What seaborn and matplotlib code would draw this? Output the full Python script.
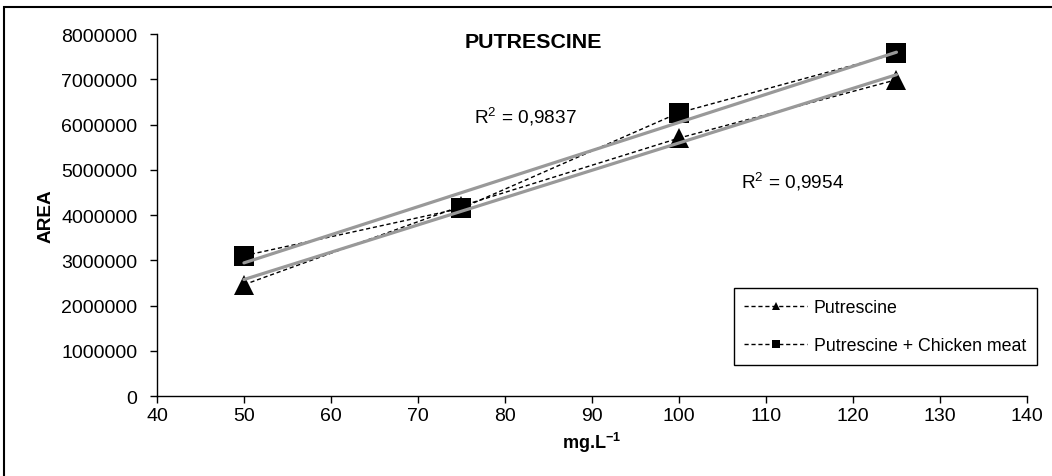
import numpy as np
import pandas as pd
import matplotlib
matplotlib.use("Agg")
import matplotlib.pyplot as plt
from matplotlib.patches import Rectangle
from matplotlib.ticker import FuncFormatter, MultipleLocator
import seaborn as sns

# Calibration data: concentration (mg.L-1) vs. peak area
concentration = [50, 75, 100, 125]
area_putrescine = [2460000, 4200000, 5700000, 6990000]
area_chicken = [3100000, 4150000, 6260000, 7570000]
series_names = ["Putrescine", "Putrescine + Chicken meat"]
r2_labels = ["R$^2$ = 0,9954", "R$^2$ = 0,9837"]

sns.set_theme(style="white")
plt.rcParams["font.family"] = ["Liberation Sans", "DejaVu Sans"]
plt.rcParams["mathtext.fontset"] = "custom"
plt.rcParams["mathtext.rm"] = "Liberation Sans"
plt.rcParams["mathtext.bf"] = "Liberation Sans:bold"
plt.rcParams["text.color"] = "black"
plt.rcParams["axes.labelcolor"] = "black"

fig = plt.figure(figsize=(10.52, 4.77), dpi=100)
ax = fig.add_axes([0.1492, 0.1677, 0.8270, 0.7589])

df = pd.DataFrame({
    "conc": concentration * 2,
    "area": area_putrescine + area_chicken,
    "series": [series_names[0]] * 4 + [series_names[1]] * 4,
})

markers = {series_names[0]: "^", series_names[1]: "s"}
for name in series_names:
    sub = df[df["series"] == name]
    sns.lineplot(data=sub, x="conc", y="area", ax=ax, color="black",
                 linewidth=1.0, linestyle=(0, (3, 2)), marker=markers[name],
                 markersize=15, markeredgewidth=0, label=name, zorder=3)

for name in series_names:
    sub = df[df["series"] == name]
    sns.regplot(data=sub, x="conc", y="area", ax=ax, scatter=False, ci=None,
                truncate=True, color="#999999", line_kws={"linewidth": 2.3, "zorder": 4})

ax.set_xlim(40, 140)
ax.set_ylim(0, 8000000)
ax.xaxis.set_major_locator(MultipleLocator(10))
ax.yaxis.set_major_locator(MultipleLocator(1000000))
ax.yaxis.set_major_formatter(FuncFormatter(lambda v, p: f"{int(v)}"))

for s in ["top", "right"]:
    ax.spines[s].set_visible(False)
for s in ["left", "bottom"]:
    ax.spines[s].set_color("black")
    ax.spines[s].set_linewidth(1.0)
ax.tick_params(axis="both", direction="out", length=5, width=1, color="black",
               labelsize=14, labelcolor="black", left=True, bottom=True)
ax.tick_params(axis="y", pad=9)
ax.tick_params(axis="x", pad=3)

ax.set_xlabel("mg.L$^{\\mathbf{-1}}$", fontsize=13, fontweight="bold", labelpad=4)
ax.set_ylabel("AREA", fontsize=13.7, fontweight="bold", labelpad=5)

ax.text(83.3, 7.84e6, "PUTRESCINE", ha="center", va="center",
        fontsize=15.4, fontweight="bold")
ax.text(82.4, 6.19e6, r2_labels[1], ha="center", va="center", fontsize=13.7)
ax.text(113.1, 4.76e6, r2_labels[0], ha="center", va="center", fontsize=13.7)

handles, labels = ax.get_legend_handles_labels()
leg = ax.legend(handles[:2], labels[:2], loc="upper left",
                bbox_to_anchor=(0.663, 0.298), fontsize=12.8, frameon=True,
                fancybox=False, edgecolor="black", framealpha=1,
                handlelength=3.5, markerscale=0.4, labelspacing=1.2,
                borderpad=0.6, handletextpad=0.4, borderaxespad=0)
leg.get_frame().set_linewidth(1.0)
for t in leg.get_texts():
    t.set_color("black")

fig.patches.append(Rectangle((4 / 1052, -0.1), 1.2, 1.1 - 8 / 477,
                             transform=fig.transFigure, fill=False,
                             edgecolor="black", linewidth=1.5))

fig.savefig("out.png", dpi=100)
